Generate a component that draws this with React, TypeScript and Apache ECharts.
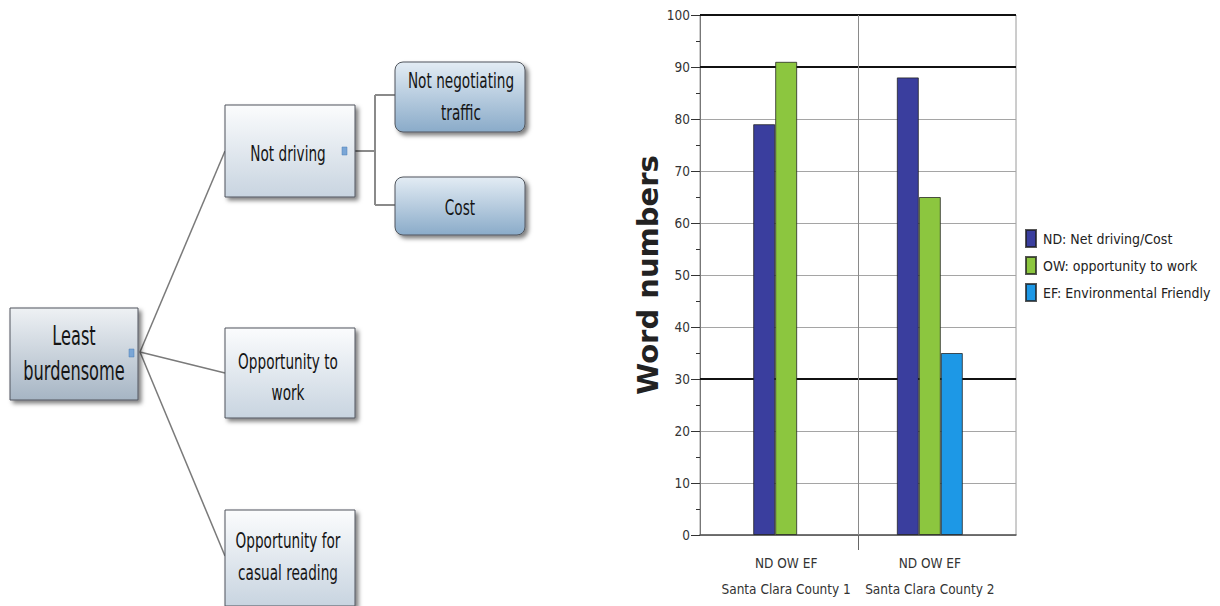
import React, { useEffect, useRef } from "react";
import * as echarts from "echarts";

// ---- chart data ----
const categories = ["Santa Clara County 1", "Santa Clara County 2"];
const groupLabel = "ND OW EF";
const seriesNames = ["ND: Net driving/Cost", "OW: opportunity to work", "EF: Environmental Friendly"];
const ndValues: (number | null)[] = [79, 88];
const owValues: (number | null)[] = [91, 65];
const efValues: (number | null)[] = [null, 35];
const seriesColors = ["#3a3e9e", "#8cc63f", "#1d98e6"];
const yMin = 0;
const yMax = 100;
const yInterval = 10;
const emphasisLines = [30, 90, 100];
const yTitle = "Word numbers";

// ---- mind map text ----
const rootLabel = "Least\nburdensome";
const branchLabels = ["Not driving", "Opportunity to\nwork", "Opportunity for\ncasual reading"];
const leafLabels = ["Not negotiating\ntraffic", "Cost"];

const NARROW = "'Liberation Sans Narrow', 'DejaVu Sans Condensed', 'Arial Narrow', sans-serif";

function grad(top: string, bottom: string) {
  return {
    type: "linear", x: 0, y: 0, x2: 0, y2: 1,
    colorStops: [{ offset: 0, color: top }, { offset: 1, color: bottom }],
  };
}

function box(x: number, y: number, w: number, h: number, fill: any, r = 0) {
  return {
    type: "rect",
    shape: { x, y, width: w, height: h, r },
    style: {
      fill, stroke: "#50555c", lineWidth: 1,
      shadowBlur: 4, shadowOffsetX: 3, shadowOffsetY: 3, shadowColor: "rgba(0,0,0,0.5)",
    },
    z: 10,
  };
}

function label(text: string, cx: number, cy: number, size: number, lh: number, sx: number) {
  return {
    type: "text",
    x: cx, y: cy, scaleX: sx, z: 11,
    style: {
      text, fill: "#151515", font: `${size}px 'DejaVu Sans', sans-serif`,
      align: "center", verticalAlign: "middle", lineHeight: lh,
    },
  };
}

function seg(x1: number, y1: number, x2: number, y2: number, color = "#7a7a7a", w = 1.5) {
  return { type: "line", shape: { x1, y1, x2, y2 }, style: { stroke: color, lineWidth: w }, z: 5 };
}

function icon(x: number, y: number) {
  return { type: "rect", shape: { x, y, width: 5, height: 8 }, style: { fill: "#7aa6d6", stroke: "#4f7fb5", lineWidth: 0.5 }, z: 12 };
}

export default function App() {
  const ref = useRef<HTMLDivElement>(null);
  useEffect(() => {
    if (!ref.current) return;
    const chart = echarts.init(ref.current, null, { renderer: "svg" });

    const lightBox = grad("#fbfcfd", "#c8d4e0");
    const rootBox = grad("#eef1f4", "#a6b5c4");
    const blueBox = grad("#e3ecf4", "#8aabc9");

    const graphic: any[] = [
      // connectors
      seg(140, 352, 225, 151),
      seg(140, 352, 225, 373),
      seg(140, 352, 225, 556),
      seg(355, 151, 375, 151, "#8a8a8a", 2),
      seg(375, 95, 375, 205, "#8a8a8a", 2),
      seg(375, 95, 395, 95, "#8a8a8a", 2),
      seg(375, 205, 395, 205, "#8a8a8a", 2),
      // boxes
      box(10, 308, 128, 92, rootBox),
      box(225, 105, 130, 92, lightBox),
      box(225, 328, 130, 90, lightBox),
      box(225, 510, 130, 96, lightBox),
      box(395, 62, 130, 70, blueBox, 8),
      box(395, 177, 130, 58, blueBox, 8),
      // texts
      label(rootLabel, 74, 353, 27, 35, 0.6),
      label(branchLabels[0], 288, 153, 22, 31, 0.62),
      label(branchLabels[1], 288, 377, 22, 31, 0.62),
      label(branchLabels[2], 288, 556, 22, 32, 0.62),
      label(leafLabels[0], 461, 96, 22, 32, 0.62),
      label(leafLabels[1], 460, 207, 22, 31, 0.62),
      icon(129, 349),
      icon(342, 147),
    ];

    const barBase = {
      type: "bar",
      barWidth: 22,
      barGap: "0%",
      z: 3,
      itemStyle: { borderColor: "rgba(30,30,30,0.75)", borderWidth: 1 },
    };

    const option: any = {
      animation: false,
      backgroundColor: "#ffffff",
      graphic,
      grid: {
        left: 700, top: 15, width: 316, height: 520,
        show: true, borderColor: "#9a9a9a", borderWidth: 1, backgroundColor: "transparent",
      },
      legend: {
        orient: "vertical",
        left: 1025, top: 229,
        padding: 0,
        itemWidth: 10, itemHeight: 17, itemGap: 8,
        icon: "rect",
        data: seriesNames,
        textStyle: { fontSize: 14, color: "#222", fontFamily: NARROW, padding: [0, 0, 0, 2] },
      },
      xAxis: {
        type: "value",
        min: -0.6,
        max: 1.6,
        axisLine: { show: true, onZero: false, lineStyle: { color: "#555", width: 1.5 } },
        splitLine: { show: false },
        axisTick: { show: true, customValues: [0.5], length: 15, lineStyle: { color: "#666" } },
        axisLabel: {
          customValues: [0, 1],
          formatter: (v: number) => `${groupLabel}\n${categories[Math.round(v)]}`,
          fontSize: 13.5, lineHeight: 26, margin: 15, color: "#333", fontFamily: NARROW,
        },
      },
      yAxis: {
        type: "value",
        min: yMin, max: yMax, interval: yInterval,
        name: yTitle,
        nameLocation: "middle",
        nameGap: 36,
        nameTextStyle: { fontSize: 29, fontWeight: "bold", color: "#222", fontFamily: "'DejaVu Sans', sans-serif" },
        axisLine: { show: true, onZero: false, lineStyle: { color: "#777" } },
        axisTick: { show: true, length: 9, lineStyle: { color: "#333" } },
        minorTick: { show: true, splitNumber: 2, length: 4, lineStyle: { color: "#333" } },
        axisLabel: { fontSize: 13.5, color: "#333", margin: 10, fontFamily: NARROW },
        splitLine: { show: true, lineStyle: { color: "#a5a5a5", width: 1 } },
      },
      series: [
        {
          type: "scatter",
          data: [],
          z: 1,
          silent: true,
          markLine: {
            silent: true,
            z: 1,
            symbol: ["none", "none"],
            label: { show: false },
            data: [
              ...emphasisLines.map((v) => ({ yAxis: v, lineStyle: { color: "#111", width: 2, type: "solid" } })),
              { xAxis: 0.5, lineStyle: { color: "#8a8a8a", width: 1, type: "solid" } },
            ],
          },
        },
        { ...barBase, name: seriesNames[0], color: seriesColors[0], data: categories.map((_, i) => [i, ndValues[i]]) },
        { ...barBase, name: seriesNames[1], color: seriesColors[1], data: categories.map((_, i) => [i, owValues[i]]) },
        { ...barBase, name: seriesNames[2], color: seriesColors[2], data: categories.map((_, i) => [i, efValues[i]]) },
      ],
    };
    chart.setOption(option);
    return () => chart.dispose();
  }, []);

  return (
    <div
      ref={ref}
      style={{ position: "fixed", left: 0, top: 0, width: 1220, height: 606, background: "#fff" }}
    />
  );
}
